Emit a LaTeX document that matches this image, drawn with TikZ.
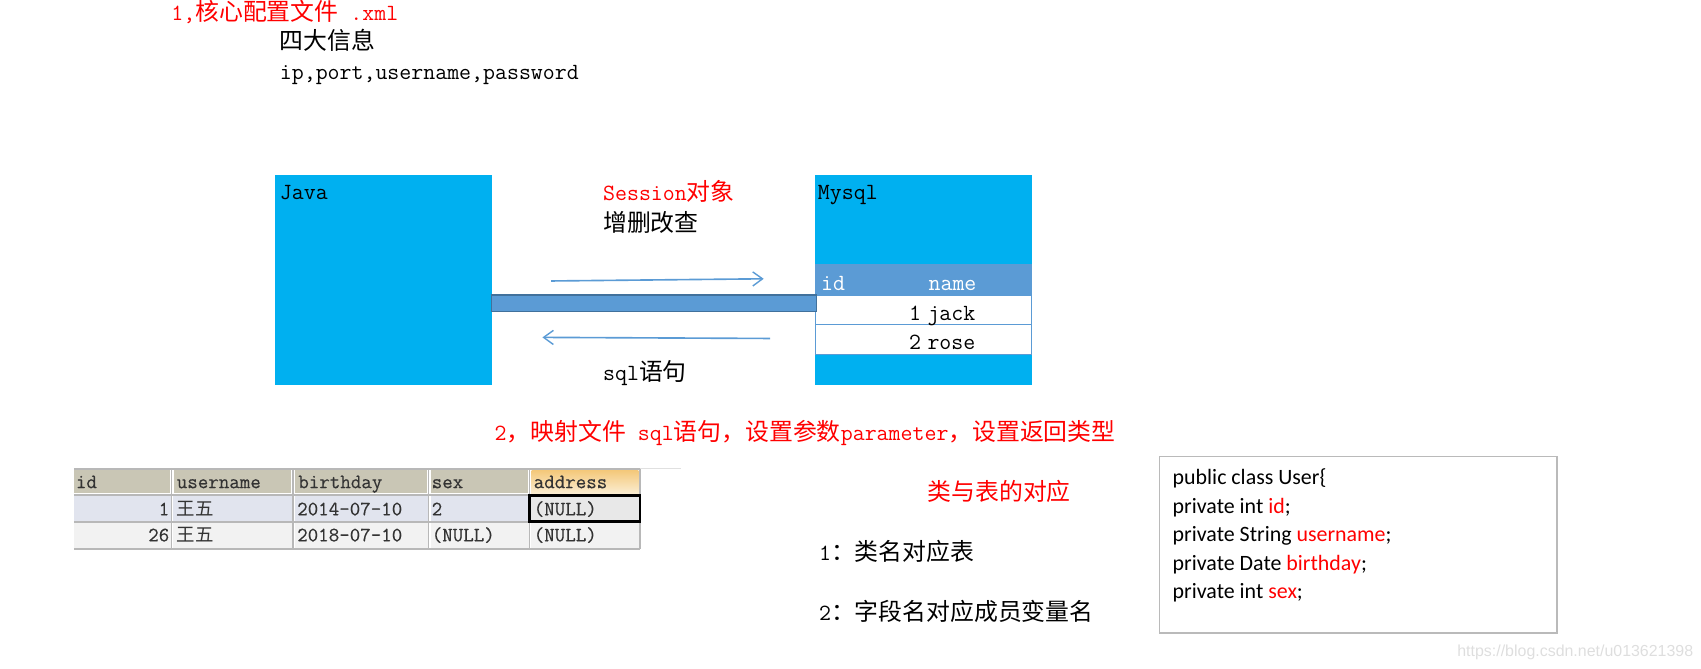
\documentclass[tikz,border=0pt]{standalone}
\usepackage{fontspec}
\usetikzlibrary{arrows.meta,shadings}
\newfontfamily\cjkfont{Noto Sans CJK SC}[Scale=1]
\newfontfamily\calfont{Carlito}
\newfontfamily\wmfont{Liberation Sans}
\setmonofont{Latin Modern Mono}
\newfontfamily\tblfont{Latin Modern Mono}[FakeBold=0.35]
\newcommand{\zh}[1]{{\cjkfont\fontsize{22}{22}\selectfont #1}}
\definecolor{cyanbox}{HTML}{00B0F0}
\definecolor{bluehd}{HTML}{5B9BD5}
\definecolor{bluedk}{HTML}{41719C}
\definecolor{grayhd}{HTML}{C9C6B5}
\definecolor{rowa}{HTML}{E1E4EE}
\definecolor{rowb}{HTML}{F2F2F2}
\definecolor{selcell}{HTML}{E8E8E8}
\definecolor{gridc}{HTML}{B8B8B8}
\definecolor{hdtop}{HTML}{F4C87A}
\definecolor{hdbot}{HTML}{FBEFD6}
\tikzset{
  lbl/.style={anchor=base west,inner sep=0pt,outer sep=0pt,font=\fontsize{21.4}{21}\selectfont\ttfamily,text=black},
  redlbl/.style={lbl,text=red},
  whitelbl/.style={lbl,text=white},
  bigbox/.style={draw=none,fill=cyanbox,minimum width=199.5pt,minimum height=194pt,inner sep=0pt,outer sep=0pt,anchor=north west},
  flow/.style={draw=bluehd,line width=1.5pt,-{Straight Barb[length=9pt,width=13pt,line width=1.3pt]}},
  grid/.style={draw=gridc,line width=1.6pt},
  tbl/.style={anchor=base west,inner sep=0pt,outer sep=0pt,font=\fontsize{18.8}{18}\selectfont\tblfont,text=black!80},
  code/.style={anchor=base west,inner sep=0pt,outer sep=0pt,font=\fontsize{20.2}{20}\selectfont\calfont,text=black},
}
\begin{document}
\begin{tikzpicture}[x=1pt,y=-1pt]
\useasboundingbox (0,0) rectangle (1568,616);
% top texts
\node[redlbl] (t1) at (158,19) {1,\zh{核心配置文件} .xml};
\node[lbl] (t2) at (258,46) {\zh{四大信息}};
\node[lbl] (t3) at (258,73.5) {ip,port,username,password};
% Java box
\node[bigbox] (java) at (253.8,161) {};
\node[lbl] (javat) at (258,184) {Java};
% Mysql box
\node[bigbox] (mysql) at (751.6,161) {};
\node[lbl] (mysqlt) at (754,184) {Mysql};
% Mysql inner table
\fill[bluehd] (751.6,243) rectangle (951,272);
\draw[bluehd,line width=1pt,fill=white] (751.8,272) rectangle (951,299);
\draw[bluehd,line width=1pt,fill=white] (751.8,299) rectangle (951,327);
\node[whitelbl] (mid) at (757,268) {id};
\node[whitelbl] (mname) at (856,268) {name};
\node[lbl] (m1) at (838,295) {1};
\node[lbl] (mj) at (855,295) {jack};
\node[lbl] (m2) at (838,322) {2};
\node[lbl] (mr) at (855,322) {rose};
% Connector bar
\coordinate (barl) at (java.east|-0,272);
\coordinate (barr) at (752.6,287);
\draw[draw=bluedk,fill=bluehd,line width=1.2pt] (barl) rectangle (barr);
% Arrows
\coordinate (a1s) at (508,259);
\coordinate (a1e) at (704,257);
\coordinate (a2s) at (710,312);
\coordinate (a2e) at (500,311);
\draw[flow] (a1s) -- (a1e);
\draw[flow] (a2s) -- (a2e);
\node[redlbl] (sess) at (556,185) {Session\zh{对象}};
\node[lbl] (crud) at (556,213) {\zh{增删改查}};
\node[lbl] (sql) at (556,351) {sql\zh{语句}};
\node[redlbl] (t4) at (456,406) {2\zh{，映射文件} sql\zh{语句，设置参数}parameter\zh{，设置返回类型}};
% Lower-left table
\draw[black!12,line width=1pt] (590,432) -- (628,432);
\fill[white] (68,432) rectangle (590,456);
\foreach \xa/\xb in {68/156.5,160/268.5,272/393.5,397/486.5}{
  \fill[grayhd] (\xa,433.5) rectangle (\xb,454.5);
}
\shade[top color=hdtop,bottom color=hdbot] (490,433.5) rectangle (588.5,456);
\fill[rowa] (68,456) rectangle (488,481);
\fill[selcell] (488,456) rectangle (590,481);
\fill[rowb] (68,481) rectangle (590,506);
\foreach \xx in {158,270,395,488}{
  \draw[grid] (\xx,432) -- (\xx,506);
  \draw[white,line width=1pt] (\xx+1.4,456) -- (\xx+1.4,505);
}
\draw[grid] (590,432) -- (590,506);
\draw[grid] (68,432) -- (590,432);
\draw[grid] (68,456) -- (590,456);
\draw[grid] (68,481) -- (590,481);
\draw[grid] (68,506) -- (590,506);
\draw[black,line width=2.6pt] (488,456.5) rectangle (590,481);
\node[tbl] (c1) at (70,450) {id};
\node[tbl] (c2) at (163,450) {username};
\node[tbl] (c3) at (275,450) {birthday};
\node[tbl] (c4) at (398,450) {sex};
\node[tbl] (c5) at (492,450) {address};
\node[tbl,anchor=base east] (r11) at (156,475) {1};
\node[tbl] (r12) at (163,475) {\cjkfont\fontsize{17}{17}\selectfont 王五};
\node[tbl] (r13) at (274,475) {2014-07-10};
\node[tbl] (r14) at (398,475) {2};
\node[tbl] (r15) at (492,475) {(NULL)};
\node[tbl,anchor=base east] (r21) at (156,499) {26};
\node[tbl] (r22) at (163,499) {\cjkfont\fontsize{17}{17}\selectfont 王五};
\node[tbl] (r23) at (274,499) {2018-07-10};
\node[tbl] (r24) at (398,499) {(NULL)};
\node[tbl] (r25) at (492,499) {(NULL)};
% Middle texts
\node[redlbl] (m3) at (855,461) {\zh{类与表的对应}};
\node[lbl] (m4) at (755,517) {1\zh{：类名对应表}};
\node[lbl] (m5) at (755,572) {2\zh{：字段名对应成员变量名}};
% Code box
\node[draw=black!27,line width=1.6pt,fill=white,minimum width=366.5pt,minimum height=163pt,inner sep=0pt,anchor=north west] (codebox) at (1068,420) {};
\node[code] (l1) at (1081,447) {public class User\{};
\node[code] (l2) at (1081,473) {private int \textcolor{red}{id};};
\node[code] (l3) at (1081,499) {private String \textcolor{red}{username};};
\node[code] (l4) at (1081,526) {private Date \textcolor{red}{birthday};};
\node[code] (l5) at (1081,552) {private int \textcolor{red}{sex};};
% Watermark
\node[anchor=base east,inner sep=0pt,text=black!13,font=\fontsize{14.7}{15}\selectfont\wmfont] (wm) at (1561,605) {https://blog.csdn.net/u013621398};
\end{tikzpicture}
\end{document}
